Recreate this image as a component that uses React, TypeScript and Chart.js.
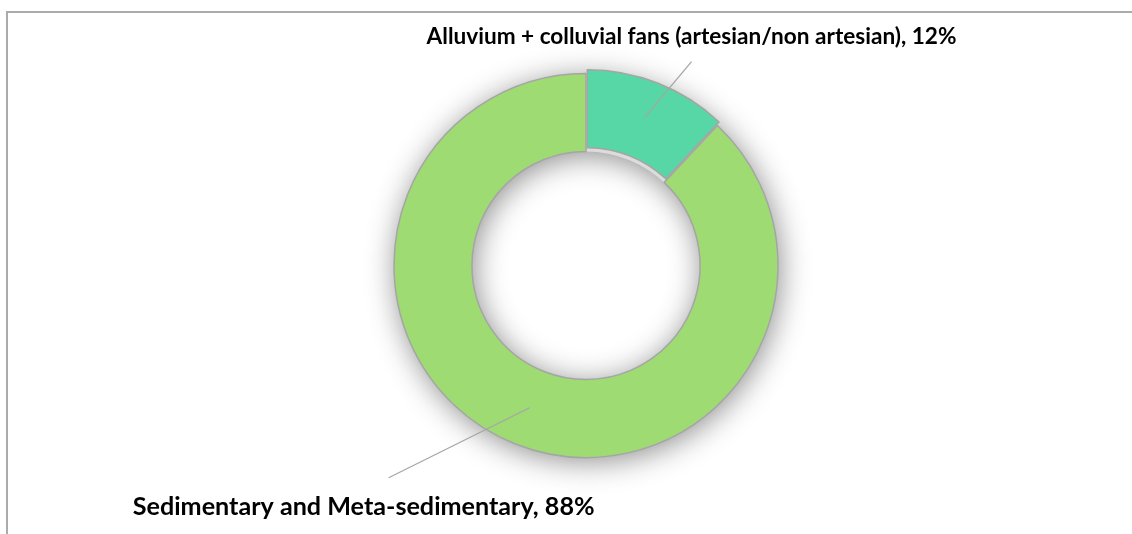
import React, { useEffect, useRef } from "react";
import { Chart, registerables } from "chart.js";

Chart.register(...registerables);

const categories = [
  "Alluvium + colluvial fans (artesian/non artesian)",
  "Sedimentary and Meta-sedimentary",
];
const values = [12, 88];
const sliceColors = ["#57D6A6", "#9EDB73"];

const W = 1132;
const H = 534;

const framePlugin = {
  id: "frame",
  beforeDraw(chart: any) {
    const ctx = chart.ctx;
    ctx.save();
    ctx.fillStyle = "#FFFFFF";
    ctx.fillRect(0, 0, W, H);
    ctx.fillStyle = "#ABABAB";
    ctx.fillRect(6, 11, W - 6, 2);
    ctx.fillRect(6, 11, 2, H - 11);
    ctx.restore();
  },
};

const shadowPlugin = {
  id: "ringShadow",
  beforeDatasetsDraw(chart: any) {
    const meta = chart.getDatasetMeta(0);
    const arc = meta.data[1];
    if (!arc) return;
    const { x, y, outerRadius, innerRadius } = arc.getProps(["x", "y", "outerRadius", "innerRadius"], true);
    const ctx = chart.ctx;
    ctx.save();
    ctx.shadowColor = "rgba(0,0,0,0.45)";
    ctx.shadowBlur = 30;
    ctx.shadowOffsetX = 2;
    ctx.shadowOffsetY = 4;
    ctx.fillStyle = "#DCDCDC";
    ctx.beginPath();
    ctx.arc(x, y, outerRadius, 0, Math.PI * 2);
    ctx.arc(x, y, innerRadius, 0, Math.PI * 2, true);
    ctx.closePath();
    ctx.fill();
    ctx.restore();
  },
};

// leader line end offsets and label placement relative to line end
const labelStyle = [
  { dx: 47, dy: -56, tx: 0, ty: -18, width: 530 },
  { dx: -141, dy: 70, tx: -25, ty: 37, width: 462 },
];

const labelPlugin = {
  id: "leaderLabels",
  afterDatasetsDraw(chart: any) {
    const meta = chart.getDatasetMeta(0);
    const ctx = chart.ctx;
    const data = chart.data.datasets[0].data as number[];
    const total = data.reduce((a, b) => a + b, 0);
    meta.data.forEach((el: any, i: number) => {
      const p = el.tooltipPosition(true);
      const st = labelStyle[i];
      const ex = p.x + st.dx;
      const ey = p.y + st.dy;
      ctx.save();
      ctx.strokeStyle = "#A6A6A6";
      ctx.lineWidth = 1.3;
      ctx.beginPath();
      ctx.moveTo(p.x, p.y);
      ctx.lineTo(ex, ey);
      ctx.stroke();
      const text = `${chart.data.labels[i]}, ${Math.round((data[i] / total) * 100)}%`;
      ctx.font = "bold 17px Lato";
      const m = ctx.measureText(text).width;
      const size = (17 * st.width) / m;
      ctx.font = `bold ${size.toFixed(2)}px Lato`;
      ctx.fillStyle = "#000000";
      ctx.textAlign = "center";
      ctx.textBaseline = "alphabetic";
      ctx.fillText(text, ex + st.tx, ey + st.ty);
      ctx.restore();
    });
  },
};

export default function App() {
  const ref = useRef<HTMLCanvasElement | null>(null);
  useEffect(() => {
    document.body.style.margin = "0";
    const canvas = ref.current;
    if (!canvas) return;
    const chart = new Chart(canvas, {
      type: "doughnut",
      data: {
        labels: categories,
        datasets: [
          {
            data: values,
            backgroundColor: sliceColors,
            borderColor: "#A5A5A5",
            borderWidth: 1.5,
            offset: [12, 0],
          },
        ],
      },
      options: {
        responsive: false,
        animation: false,
        radius: 192,
        cutout: "59.4%",
        layout: { padding: { left: 240, right: 200, top: 60, bottom: 63 } },
        plugins: {
          legend: { display: false },
          tooltip: { enabled: false },
        },
        events: [],
      } as any,
      plugins: [framePlugin, shadowPlugin, labelPlugin],
    });
    return () => chart.destroy();
  }, []);
  return (
    <div style={{ width: W, height: H }}>
      <canvas ref={ref} width={W} height={H} style={{ display: "block" }} />
    </div>
  );
}
